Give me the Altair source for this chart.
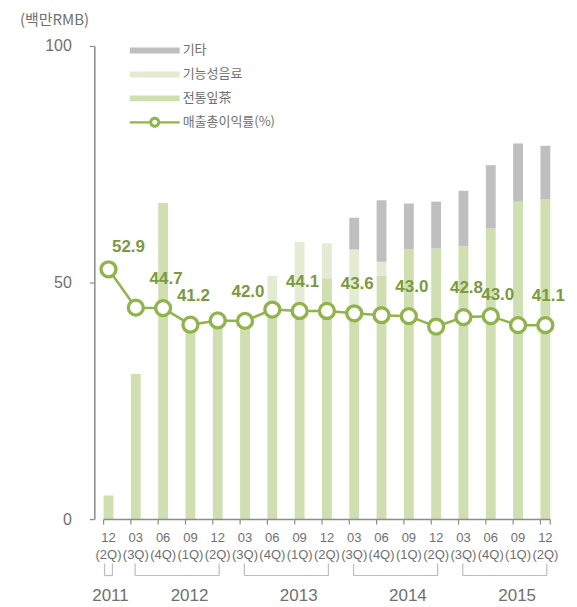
import altair as alt
import pandas as pd

# ---------------- data ----------------
years = [2011, 2012, 2012, 2012, 2012, 2013, 2013, 2013, 2013,
         2014, 2014, 2014, 2014, 2015, 2015, 2015, 2015]
months = ["12", "03", "06", "09", "12", "03", "06", "09", "12",
          "03", "06", "09", "12", "03", "06", "09", "12"]
quarters = ["(2Q)", "(3Q)", "(4Q)", "(1Q)", "(2Q)", "(3Q)", "(4Q)", "(1Q)", "(2Q)",
            "(3Q)", "(4Q)", "(1Q)", "(2Q)", "(3Q)", "(4Q)", "(1Q)", "(2Q)"]

traditional = [5.1, 30.8, 66.9, 40.0, 41.0, 41.0, 43.0, 44.0, 51.0,
               44.0, 51.5, 57.1, 57.3, 57.8, 61.5, 67.2, 67.7]
functional = [0, 0, 0, 0, 0, 0, 8.5, 14.7, 7.4,
              13.1, 3.0, 0, 0, 0, 0, 0, 0]
other = [0, 0, 0, 0, 0, 0, 0, 0, 0,
         6.7, 13.0, 9.7, 9.9, 11.7, 13.4, 12.3, 11.3]

margin = [52.9, 44.8, 44.7, 41.2, 42.1, 42.0, 44.4, 44.1, 44.1,
          43.6, 43.2, 43.0, 40.8, 42.8, 43.0, 41.1, 41.1]
margin_labels = ["52.9", "", "44.7", "41.2", "", "42.0", "", "44.1", "",
                 "43.6", "", "43.0", "", "42.8", "43.0", "", "41.1"]

y_ticks = [0, 50, 100]
y_title = "(백만RMB)"

series_names = ["기타", "기능성음료", "전통잎茶", "매출총이익률(%)"]
series_colors = ["#bfbfbf", "#e3ecd3", "#cfdfaf", "#8fb54a"]

# ---------------- tables ----------------
periods = [f"{y}-{m}_{q}" for y, m, q in zip(years, months, quarters)]

bar_rows = []
for p, t, f, o in zip(periods, traditional, functional, other):
    for name, val, order in ((series_names[2], t, 0), (series_names[1], f, 1), (series_names[0], o, 2)):
        if val > 0:
            bar_rows.append({"period": p, "series": name, "value": val, "stack": order})
bars_df = pd.DataFrame(bar_rows)

line_df = pd.DataFrame({"period": periods, "margin": margin, "label": margin_labels,
                        "month": months, "quarter": quarters})
special_first = periods[0]
special_low = periods[14]
main_labels = line_df[(line_df["label"] != "") & (~line_df["period"].isin([special_first, special_low]))]
first_label = line_df[line_df["period"] == special_first]
low_label = line_df[line_df["period"] == special_low]

grp_rows = []
for y in sorted(set(years)):
    idx = [i for i, v in enumerate(years) if v == y]
    grp_rows.append({"year": str(y), "start": periods[idx[0]], "end": periods[idx[-1]],
                     "mid": periods[idx[2]] if len(idx) > 2 else periods[idx[0]], "n": len(idx)})
grp_df = pd.DataFrame(grp_rows)
grp_multi = grp_df[grp_df["n"] > 1]
grp_single = grp_df[grp_df["n"] == 1]

ytick_df = pd.DataFrame({"v": y_ticks, "label": [str(v) for v in y_ticks]})
yline_df = pd.DataFrame({"lo": [min(y_ticks)], "hi": [max(y_ticks)]})
xline_df = pd.DataFrame({"start": [periods[0]], "end": [periods[-1]]})
ytitle_df = pd.DataFrame({"t": [y_title]})

# ---------------- styling ----------------
GREEN = "#8fb54a"
LABEL_GREEN = "#7a9a3c"
AXIS_GRAY = "#8c8c8c"
TEXT_GRAY = "#707070"
NUM_FONT = "Liberation Sans"
KR_FONT = "Noto Sans CJK KR"
H = 474
W = 465

RECT = "M-5,-0.6H5V0.6H-5Z"
LINE = ("M-5,-0.22H-1.1V0.22H-5Z M1.1,-0.22H5V0.22H1.1Z "
        "M1.1,0A1.1,1.1 0 1,1 -1.1,0A1.1,1.1 0 1,1 1.1,0Z "
        "M0.5,0A0.5,0.5 0 1,0 -0.5,0A0.5,0.5 0 1,0 0.5,0Z")

x_scale = alt.Scale(domain=periods, paddingInner=0.64, paddingOuter=0.32)
y_scale = alt.Scale(domain=[0, 100])

shape_expr = "datum.value === '" + series_names[3] + "' ? '" + LINE + "' : '" + RECT + "'"
legend = alt.Legend(orient="none", legendX=53.5, legendY=-2.5, title=None,
                    labelFont=KR_FONT, labelFontSize=13, labelColor=TEXT_GRAY,
                    symbolSize=100, symbolStrokeWidth=0, symbolType=alt.ExprRef(expr=shape_expr),
                    labelOffset=21.5, rowPadding=10, padding=0)

# ---------------- data layers ----------------
bars = alt.Chart(bars_df).mark_bar().encode(
    x=alt.X("period:N", scale=x_scale, axis=None),
    y=alt.Y("value:Q", stack="zero", scale=y_scale, axis=None),
    color=alt.Color("series:N", scale=alt.Scale(domain=series_names, range=series_colors), legend=legend),
    order=alt.Order("stack:Q", sort="ascending"),
)

xl = alt.X("period:N", scale=x_scale, axis=None)
yl = alt.Y("margin:Q", scale=y_scale, axis=None)

line = alt.Chart(line_df).mark_line(color=GREEN, strokeWidth=2.5).encode(x=xl, y=yl)
points = alt.Chart(line_df).mark_point(shape="circle", filled=True, fill="white", stroke=GREEN,
                                       strokeWidth=3.3, size=225, opacity=1).encode(x=xl, y=yl)

txt_style = dict(font=NUM_FONT, fontWeight="bold", fontSize=17, color=LABEL_GREEN, baseline="middle")
labels_main = alt.Chart(main_labels).mark_text(dx=3, dy=-29, **txt_style).encode(x=xl, y=yl, text="label:N")
labels_first = alt.Chart(first_label).mark_text(dx=20, dy=-22, **txt_style).encode(x=xl, y=yl, text="label:N")
labels_low = alt.Chart(low_label).mark_text(dx=7, dy=-21, **txt_style).encode(x=xl, y=yl, text="label:N")

# ---------------- axes (drawn as marks) ----------------
y_line = alt.Chart(yline_df).mark_rule(color=AXIS_GRAY, strokeWidth=1.5).encode(
    x=alt.value(0), y=alt.Y("lo:Q", scale=y_scale, axis=None), y2="hi:Q")
y_tick = alt.Chart(ytick_df).mark_rule(color=AXIS_GRAY, strokeWidth=1.2).encode(
    x=alt.value(-5), x2=alt.value(0), y=alt.Y("v:Q", scale=y_scale, axis=None))
y_lab = alt.Chart(ytick_df).mark_text(font=NUM_FONT, fontSize=16, color=TEXT_GRAY,
                                      align="right", baseline="middle").encode(
    x=alt.value(-23), y=alt.Y("v:Q", scale=y_scale, axis=None), text="label:N")
y_ttl = alt.Chart(ytitle_df).mark_text(font=KR_FONT, fontSize=15, color=TEXT_GRAY,
                                       align="left", baseline="middle").encode(
    x=alt.value(-75), y=alt.value(-27), text="t:N")

x_line = alt.Chart(xline_df).mark_rule(color=AXIS_GRAY, strokeWidth=1.5).encode(
    x=alt.X("start:N", scale=x_scale, axis=None, bandPosition=0),
    x2=alt.X2("end:N", bandPosition=1), y=alt.value(H))
x_tick = alt.Chart(line_df).mark_rule(color=AXIS_GRAY, strokeWidth=1.2).encode(
    x=alt.X("period:N", scale=x_scale, axis=None, bandPosition=0), y=alt.value(H), y2=alt.value(H + 5))
x_tick_end = alt.Chart(xline_df).mark_rule(color=AXIS_GRAY, strokeWidth=1.2).encode(
    x=alt.X("end:N", scale=x_scale, axis=None, bandPosition=1), y=alt.value(H), y2=alt.value(H + 5))
lab_style = dict(font=NUM_FONT, fontSize=13, color=TEXT_GRAY, baseline="middle", align="center")
x_lab1 = alt.Chart(line_df).mark_text(**lab_style).encode(x=xl, y=alt.value(H + 18), text="month:N")
x_lab2 = alt.Chart(line_df).mark_text(**lab_style).encode(x=xl, y=alt.value(H + 35), text="quarter:N")

# ---------------- year brackets ----------------
BR_COLOR = "#bdbdbd"


def bracket_layers(df, b0, b1):
    h = alt.Chart(df).mark_rule(color=BR_COLOR, strokeWidth=1.2).encode(
        x=alt.X("start:N", scale=x_scale, axis=None, bandPosition=b0),
        x2=alt.X2("end:N", bandPosition=b1),
        y=alt.value(H + 56),
    )
    left = alt.Chart(df).mark_rule(color=BR_COLOR, strokeWidth=1.2).encode(
        x=alt.X("start:N", scale=x_scale, axis=None, bandPosition=b0),
        y=alt.value(H + 44), y2=alt.value(H + 56),
    )
    right = alt.Chart(df).mark_rule(color=BR_COLOR, strokeWidth=1.2).encode(
        x=alt.X("end:N", scale=x_scale, axis=None, bandPosition=b1),
        y=alt.value(H + 44), y2=alt.value(H + 56),
    )
    return [h, left, right]


yr_style = dict(font=NUM_FONT, fontSize=17, color=TEXT_GRAY, baseline="middle", align="center")
yr_multi = alt.Chart(grp_multi).mark_text(dx=4, **yr_style).encode(
    x=alt.X("mid:N", scale=x_scale, axis=None, bandPosition=0),
    y=alt.value(H + 77), text="year:N",
)
yr_single = alt.Chart(grp_single).mark_text(dx=2, **yr_style).encode(
    x=alt.X("mid:N", scale=x_scale, axis=None),
    y=alt.value(H + 77), text="year:N",
)

chart = alt.layer(
    bars, line, points, labels_main, labels_first, labels_low,
    y_line, y_tick, y_lab, y_ttl, x_line, x_tick, x_tick_end, x_lab1, x_lab2,
    *bracket_layers(grp_multi, 0.43, 0.65), *bracket_layers(grp_single, 0.1, 0.9),
    yr_multi, yr_single,
).properties(
    width=W, height=H,
    autosize=alt.AutoSizeParams(type="none"),
    padding={"left": 87, "top": 38, "right": 10, "bottom": 86},
).configure_view(stroke=None)

chart.save("out.html", embed_options={"renderer": "svg", "actions": False})
